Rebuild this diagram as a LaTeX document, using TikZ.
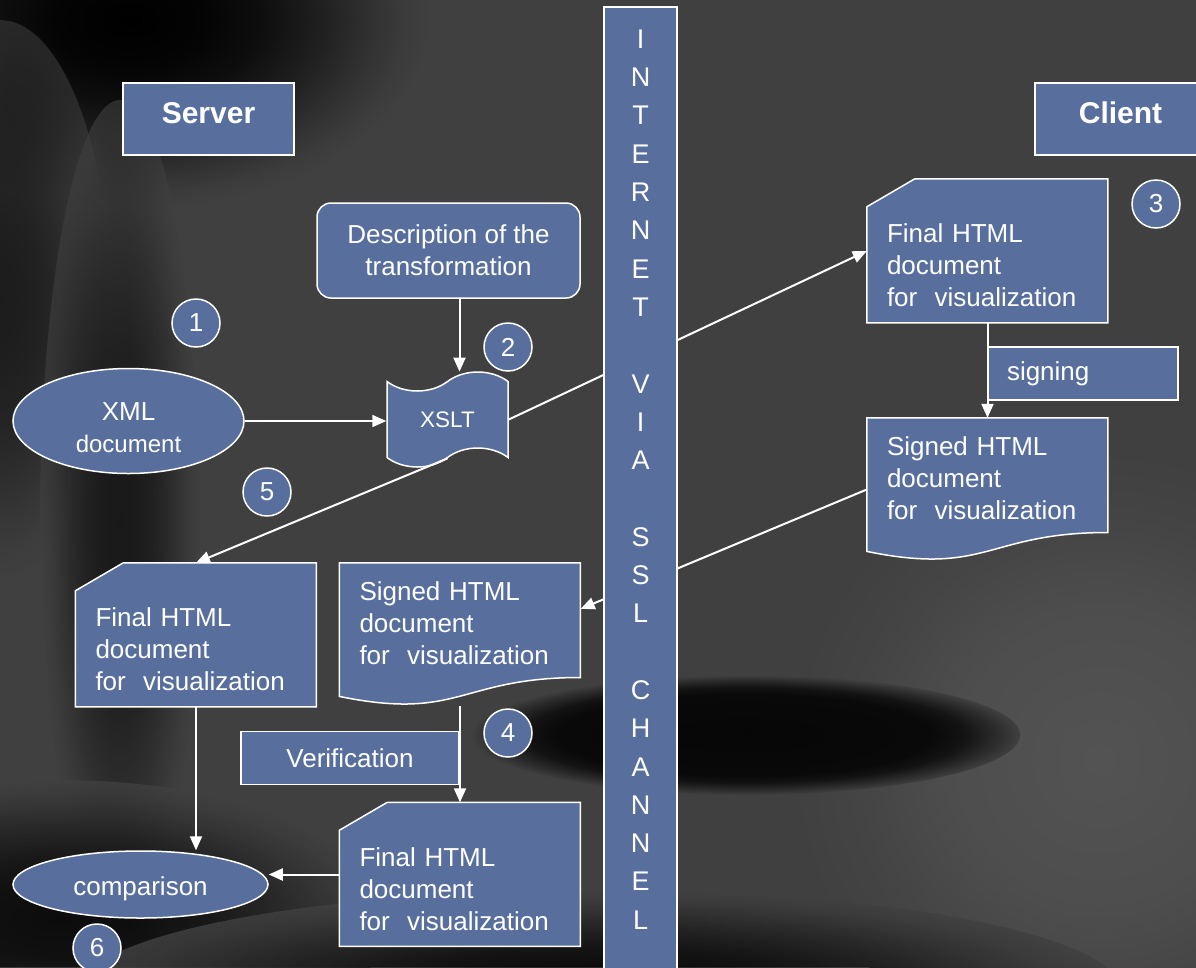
\documentclass[tikz,border=0pt]{standalone}
\usepackage{fontspec}
\setmainfont{Liberation Sans}
\usetikzlibrary{shapes.geometric,shapes.symbols,arrows.meta,backgrounds}
\definecolor{boxblue}{RGB}{88,111,158}
\definecolor{bggrey}{RGB}{64,64,64}
\pgfdeclareradialshading{soft-blob}{\pgfpoint{0bp}{0bp}}{color(0bp)=(black); color(6bp)=(black!94!bggrey); color(11bp)=(black!78!bggrey); color(16bp)=(black!50!bggrey); color(20bp)=(black!24!bggrey); color(23bp)=(black!7!bggrey); color(25bp)=(bggrey); color(50bp)=(bggrey)}
\pgfdeclareradialshading{dark-disc}{\pgfpoint{0bp}{0bp}}{color(0bp)=(black!90!bggrey); color(17bp)=(black!86!bggrey); color(20bp)=(black!70!bggrey); color(23bp)=(black!30!bggrey); color(25bp)=(bggrey); color(50bp)=(bggrey)}
\pgfdeclareradialshading{light-blob}{\pgfpoint{0bp}{0bp}}{color(0bp)=(white!10!bggrey); color(12bp)=(white!7!bggrey); color(20bp)=(white!2!bggrey); color(25bp)=(bggrey); color(50bp)=(bggrey)}
\tikzset{
    blue-box/.style = {draw=white, fill=boxblue, line width=1.5pt, text=white, inner sep=0pt, font=\fontsize{26}{32}\selectfont},
    title-box/.style = {blue-box, rectangle, minimum width=171pt, minimum height=72pt, text depth=12pt, font=\fontsize{30}{36}\selectfont\bfseries},
    round-box/.style = {blue-box, rectangle, rounded corners=14pt, minimum width=263pt, minimum height=95pt, align=center},
    label-box/.style = {blue-box, rectangle, minimum height=53pt},
    doc-box/.style = {rectangle, text=white, inner sep=0pt, font=\fontsize{26}{32}\selectfont, minimum width=241pt, minimum height=143pt, text width=201pt, align=left},
    card-box/.style = {doc-box, minimum height=144pt, text height=48pt},
    signed-box/.style = {doc-box, text height=19pt, text depth=88pt},
    doc-shape/.style = {draw=white, fill=boxblue, line width=1.5pt},
    oval-box/.style = {blue-box, ellipse, align=center},
    tape-box/.style = {blue-box, tape, tape bend height=19pt, minimum width=121pt, minimum height=95pt, font=\fontsize{22.5}{27}\selectfont},
    num-circle/.style = {blue-box, circle, minimum size=48pt},
    channel-box/.style = {blue-box, rectangle, minimum width=73pt, minimum height=962pt, align=center, font=\fontsize{27}{38.3}\selectfont},
    flow/.style = {draw=white, line width=2pt, -{Triangle[length=14pt,width=12pt]}},
}

\begin{document}
\begin{tikzpicture}[x=1pt,y=-1pt]
\useasboundingbox (0,0) rectangle (1196,967);

% server side
\node[title-box] (server) at (208.5,119) {Server};
\node[round-box] (descr) at (448.5,250.5) {Description of the\\transformation};
\node[oval-box, minimum width=231pt, minimum height=105pt, text height=63pt] (xml) at (128.5,421) {XML\\{\fontsize{24}{28}\selectfont document}};
\node[tape-box] (xslt) at (447.5,419.5) {XSLT};
\node[card-box] (srvfinal) at (196,635) {Final HTML\\document\\for\ \ visualization};
\node[signed-box] (srvsigned) at (460,634.5) {Signed HTML\\document\\for\ \ visualization};
\node[label-box, minimum width=218pt] (verify) at (350,758) {Verification};
\node[card-box] (lowfinal) at (460,874.5) {Final HTML\\document\\for\ \ visualization};
\node[oval-box, minimum width=255pt, minimum height=67pt, text height=27pt] (compare) at (140.5,884.5) {comparison};

% client side
\node[title-box] (client) at (1120.5,119) {Client};
\node[card-box] (clientfinal) at (987.5,251) {Final HTML\\document\\for\ \ visualization};
\node[label-box, minimum width=190pt, text width=152pt, align=left] (signing) at (1083,373.5) {signing};
\node[signed-box] (clientsigned) at (987.5,489.5) {Signed HTML\\document\\for\ \ visualization};

% step numbers
\node[num-circle] (step1) at (196,323) {1};
\node[num-circle] (step2) at (508,347) {2};
\node[num-circle] (step3) at (1156,204) {3};
\node[num-circle] (step4) at (508,733) {4};
\node[num-circle] (step5) at (267,492) {5};
\node[num-circle] (step6) at (97,948) {6};

% background, cards and wavy documents
\begin{scope}[on background layer]
\fill[bggrey] (0,0) rectangle (1196,967);
\shade[shading=light-blob, transform canvas={shift={(1100,760)}}] (0,0) circle [radius=310];
\shade[shading=soft-blob, transform canvas={shift={(130,20)}, yscale=0.633}] (0,0) circle [radius=300];
\shade[shading=soft-blob, opacity=0.55, transform canvas={shift={(0,300)}, yscale=2.545}] (0,0) circle [radius=110];
\shade[shading=soft-blob, opacity=0.6, transform canvas={shift={(120,520)}, yscale=5.25}] (0,0) circle [radius=80];
\shade[shading=soft-blob, opacity=0.8, transform canvas={shift={(60,920)}, yscale=0.424}] (0,0) circle [radius=330];
\shade[shading=soft-blob, opacity=0.85, transform canvas={shift={(600,990)}, yscale=0.192}] (0,0) circle [radius=520];
\shade[shading=dark-disc, transform canvas={shift={(745,735)}, yscale=0.218}] (0,0) circle [radius=275];
\foreach \doc in {srvfinal,lowfinal,clientfinal}{
  \filldraw[doc-shape, shift={(\doc.north west)}] (0,28) -- (48,0) -- (241,0) -- (241,144) -- (0,144) -- cycle;
}
\foreach \doc in {srvsigned,clientsigned}{
  \filldraw[doc-shape, shift={(\doc.north west)}] (0,0) -- (241,0) -- (241,114.7) .. controls (120.5,114.7) and (120.5,158.4) .. (0,133.6) -- cycle;
}
\end{scope}

% connectors
\coordinate (descrout) at ([xshift=11pt]descr.south);
\coordinate (xslttop) at ([yshift=9pt]xslt.north);
\draw[flow] (descrout) -- (descrout |- xslttop);
\draw[flow] (xml.east) -- (xml.east -| xslt.west);
\draw[flow] (xslt.east) -- (clientfinal.west);
\draw[flow] (xslt.south) -- (srvfinal.north);
\draw[flow] (clientfinal) -- (clientsigned);
\draw[flow] (clientsigned.west) -- (srvsigned.12);
\draw[flow] (srvsigned.south) -- (lowfinal.north);
\draw[flow] (srvfinal.south) -- (srvfinal.south |- compare.north);
\draw[flow] (lowfinal.west) -- (lowfinal.west -| compare.east);

% channel on top of the crossing lines
\node[channel-box, text depth=17pt] (channel) at (640.5,488) {I\\N\\T\\E\\R\\N\\E\\T\\[38.3pt]V\\I\\A\\[38.3pt]S\\S\\L\\[38.3pt]C\\H\\A\\N\\N\\E\\L};
\end{tikzpicture}
\end{document}
